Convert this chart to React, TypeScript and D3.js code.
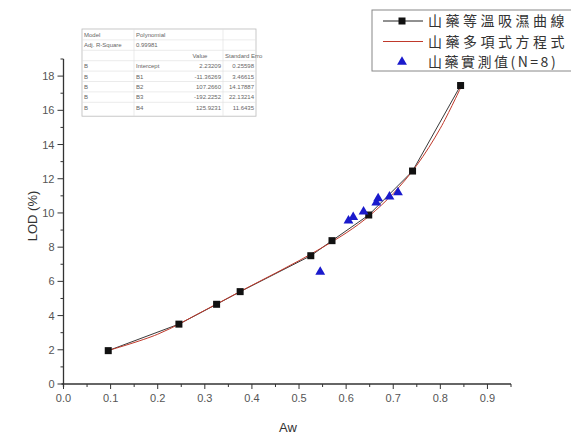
import { useEffect, useRef } from "react";
import * as d3 from "d3";

// 等溫吸濕曲線 (black squares joined by a line)
const isoAw = [0.095, 0.245, 0.325, 0.375, 0.525, 0.57, 0.648, 0.741, 0.843];
const isoLod = [1.95, 3.5, 4.66, 5.4, 7.5, 8.38, 9.88, 12.45, 17.45];

// 多項式方程式 (red fitted curve)
const fitAw = [0.095, 0.2, 0.3, 0.4, 0.5, 0.6, 0.65, 0.7, 0.75, 0.8, 0.845];
const fitLod = [1.96, 2.91, 4.31, 5.77, 7.21, 8.83, 9.85, 11.14, 12.79, 14.95, 17.43];

// 實測值 (blue triangles, N=8)
const obsAw = [0.545, 0.605, 0.615, 0.637, 0.664, 0.668, 0.692, 0.71];
const obsLod = [6.55, 9.55, 9.75, 10.07, 10.6, 10.85, 10.95, 11.2];

const xTicks = [0, 0.1, 0.2, 0.3, 0.4, 0.5, 0.6, 0.7, 0.8, 0.9];
const yTicks = [0, 2, 4, 6, 8, 10, 12, 14, 16, 18];

const legendLabels = ["山藥等溫吸濕曲線", "山藥多項式方程式", "山藥實測值(N=8)"];

const tableHead = [
  ["Model", "Polynomial", "", ""],
  ["Adj. R-Square", "0.99981", "", ""],
  ["", "", "Value", "Standard Erro"],
];
const tableRows = [
  ["B", "Intercept", "2.23209", "0.25598"],
  ["B", "B1", "-11.36269", "3.46615"],
  ["B", "B2", "107.2660", "14.17887"],
  ["B", "B3", "-192.2252", "22.13214"],
  ["B", "B4", "125.9231", "11.6435"],
];

export default function App() {
  const ref = useRef<SVGSVGElement>(null);

  useEffect(() => {
    const width = 571;
    const height = 439;
    const svg = d3.select(ref.current).attr("width", width).attr("height", height);
    svg.selectAll("*").remove();

    const x = d3.scaleLinear().domain([0, 0.95]).range([63.5, 511]);
    const y = d3.scaleLinear().domain([0, 19]).range([384, 59]);

    const axisColor = "#333";
    const tickColor = "#555";

    // --- eixo Y
    const gy = svg.append("g");
    gy.append("line")
      .attr("x1", x(0)).attr("x2", x(0))
      .attr("y1", y(0) + 3).attr("y2", y(19))
      .attr("stroke", axisColor).attr("stroke-width", 1.3);
    d3.range(0, 19.01, 1).forEach(v => {
      const major = v % 2 === 0;
      gy.append("line")
        .attr("x1", x(0)).attr("x2", x(0) - (major ? 6 : 3))
        .attr("y1", y(v)).attr("y2", y(v))
        .attr("stroke", axisColor).attr("stroke-width", 1);
    });
    gy.selectAll("text.tick")
      .data(yTicks)
      .join("text")
      .attr("x", x(0) - 9)
      .attr("y", d => y(d) + 4)
      .attr("text-anchor", "end")
      .attr("font-family", "Arial, 'Liberation Sans', sans-serif")
      .attr("font-size", 11)
      .attr("fill", tickColor)
      .text(d => d);

    // --- eixo X
    const gx = svg.append("g");
    gx.append("line")
      .attr("x1", x(0) - 2).attr("x2", x(0.95))
      .attr("y1", y(0)).attr("y2", y(0))
      .attr("stroke", axisColor).attr("stroke-width", 1.3);
    d3.range(0, 0.951, 0.05).forEach((v, i) => {
      const major = i % 2 === 0;
      gx.append("line")
        .attr("x1", x(v)).attr("x2", x(v))
        .attr("y1", y(0)).attr("y2", y(0) + (major ? 5 : 3))
        .attr("stroke", axisColor).attr("stroke-width", 1);
    });
    gx.selectAll("text.tick")
      .data(xTicks)
      .join("text")
      .attr("x", d => x(d))
      .attr("y", y(0) + 18)
      .attr("text-anchor", "middle")
      .attr("font-family", "Arial, 'Liberation Sans', sans-serif")
      .attr("font-size", 11)
      .attr("fill", tickColor)
      .text(d => d.toFixed(1));

    // --- títulos
    svg.append("text")
      .attr("x", 288).attr("y", 432)
      .attr("text-anchor", "middle")
      .attr("font-family", "Arial, 'Liberation Sans', sans-serif")
      .attr("font-size", 13)
      .attr("fill", "#333")
      .text("Aw");
    svg.append("text")
      .attr("transform", "translate(37,216) rotate(-90)")
      .attr("text-anchor", "middle")
      .attr("font-family", "Arial, 'Liberation Sans', sans-serif")
      .attr("font-size", 13)
      .attr("fill", "#333")
      .text("LOD (%)");

    // --- linhas
    const isoPts = isoAw.map((a, i) => [a, isoLod[i]] as [number, number]);
    const fitPts = fitAw.map((a, i) => [a, fitLod[i]] as [number, number]);
    const line = d3.line<[number, number]>().x(d => x(d[0])).y(d => y(d[1]));

    svg.append("path")
      .attr("d", line(isoPts))
      .attr("fill", "none")
      .attr("stroke", "#222")
      .attr("stroke-width", 0.9);
    svg.append("path")
      .attr("d", line.curve(d3.curveCatmullRom)(fitPts))
      .attr("fill", "none")
      .attr("stroke", "#c0392b")
      .attr("stroke-width", 1);

    svg.append("g")
      .selectAll("rect")
      .data(isoPts)
      .join("rect")
      .attr("x", d => x(d[0]) - 3.5)
      .attr("y", d => y(d[1]) - 3.5)
      .attr("width", 7)
      .attr("height", 7)
      .attr("fill", "#111");

    const tri = d3.symbol().type(d3.symbolTriangle).size(42);
    svg.append("g")
      .selectAll("path")
      .data(obsAw.map((a, i) => [a, obsLod[i]]))
      .join("path")
      .attr("d", tri)
      .attr("transform", d => `translate(${x(d[0])},${y(d[1])})`)
      .attr("fill", "#1a1acc");

    // --- tabela de coeficientes
    const tbl = svg.append("g").attr("font-family", "Arial, 'Liberation Sans', sans-serif").attr("font-size", 6).attr("fill", "#666");
    const tx0 = 82, ty0 = 29, rowH = 10.4;
    const colX = [82, 134, 178, 223, 256];
    const nRows = tableHead.length + tableRows.length;
    tbl.append("rect")
      .attr("x", tx0).attr("y", ty0)
      .attr("width", colX[4] - tx0).attr("height", rowH * nRows + 4)
      .attr("fill", "#fff").attr("stroke", "#bbb").attr("stroke-width", 0.8);
    for (let r = 1; r < nRows; r++) {
      tbl.append("line")
        .attr("x1", tx0).attr("x2", colX[4])
        .attr("y1", ty0 + r * rowH + 0.5).attr("y2", ty0 + r * rowH + 0.5)
        .attr("stroke", "#ddd").attr("stroke-width", 0.6);
    }
    [1, 3].forEach(c => {
      tbl.append("line")
        .attr("x1", colX[c]).attr("x2", colX[c])
        .attr("y1", ty0).attr("y2", ty0 + rowH * nRows + 4)
        .attr("stroke", "#ddd").attr("stroke-width", 0.6);
    });
    [...tableHead, ...tableRows].forEach((row, r) => {
      const yy = ty0 + r * rowH + 8;
      row.forEach((cell, c) => {
        if (!cell) return;
        const numeric = r >= tableHead.length && c >= 2;
        const header = r === 2;
        let xx = colX[c] + 2;
        let anchor = "start";
        if (numeric) { xx = colX[c + 1] - 2; anchor = "end"; }
        if (header && c === 2) { xx = 200; anchor = "middle"; }
        tbl.append("text")
          .attr("x", xx).attr("y", yy)
          .attr("text-anchor", anchor)
          .text(cell);
      });
    });

    // --- legenda
    const lg = svg.append("g");
    lg.append("rect")
      .attr("x", 372).attr("y", 10)
      .attr("width", 210).attr("height", 61)
      .attr("fill", "#fff").attr("stroke", "#888").attr("stroke-width", 1);
    const ly = [21, 41.5, 62];
    // símbolo 1
    lg.append("line").attr("x1", 383).attr("x2", 423).attr("y1", ly[0]).attr("y2", ly[0]).attr("stroke", "#222").attr("stroke-width", 1);
    lg.append("rect").attr("x", 398.5).attr("y", ly[0] - 3.5).attr("width", 7).attr("height", 7).attr("fill", "#111");
    // símbolo 2
    lg.append("line").attr("x1", 383).attr("x2", 423).attr("y1", ly[1]).attr("y2", ly[1]).attr("stroke", "#c0392b").attr("stroke-width", 1);
    // símbolo 3
    lg.append("path").attr("d", tri).attr("transform", `translate(402,${ly[2]})`).attr("fill", "#1a1acc");

    lg.selectAll("text")
      .data(legendLabels)
      .join("text")
      .attr("x", 428)
      .attr("y", (_, i) => ly[i] + 5)
      .attr("font-family", "'Noto Sans CJK TC', 'Noto Sans CJK SC', sans-serif")
      .attr("font-size", 14)
      .attr("letter-spacing", (_, i) => (i === 2 ? 2.5 : 3.5))
      .attr("fill", "#333")
      .text(d => d);
  }, []);

  return <svg ref={ref} style={{ position: "absolute", left: 0, top: 0 }} />;
}
